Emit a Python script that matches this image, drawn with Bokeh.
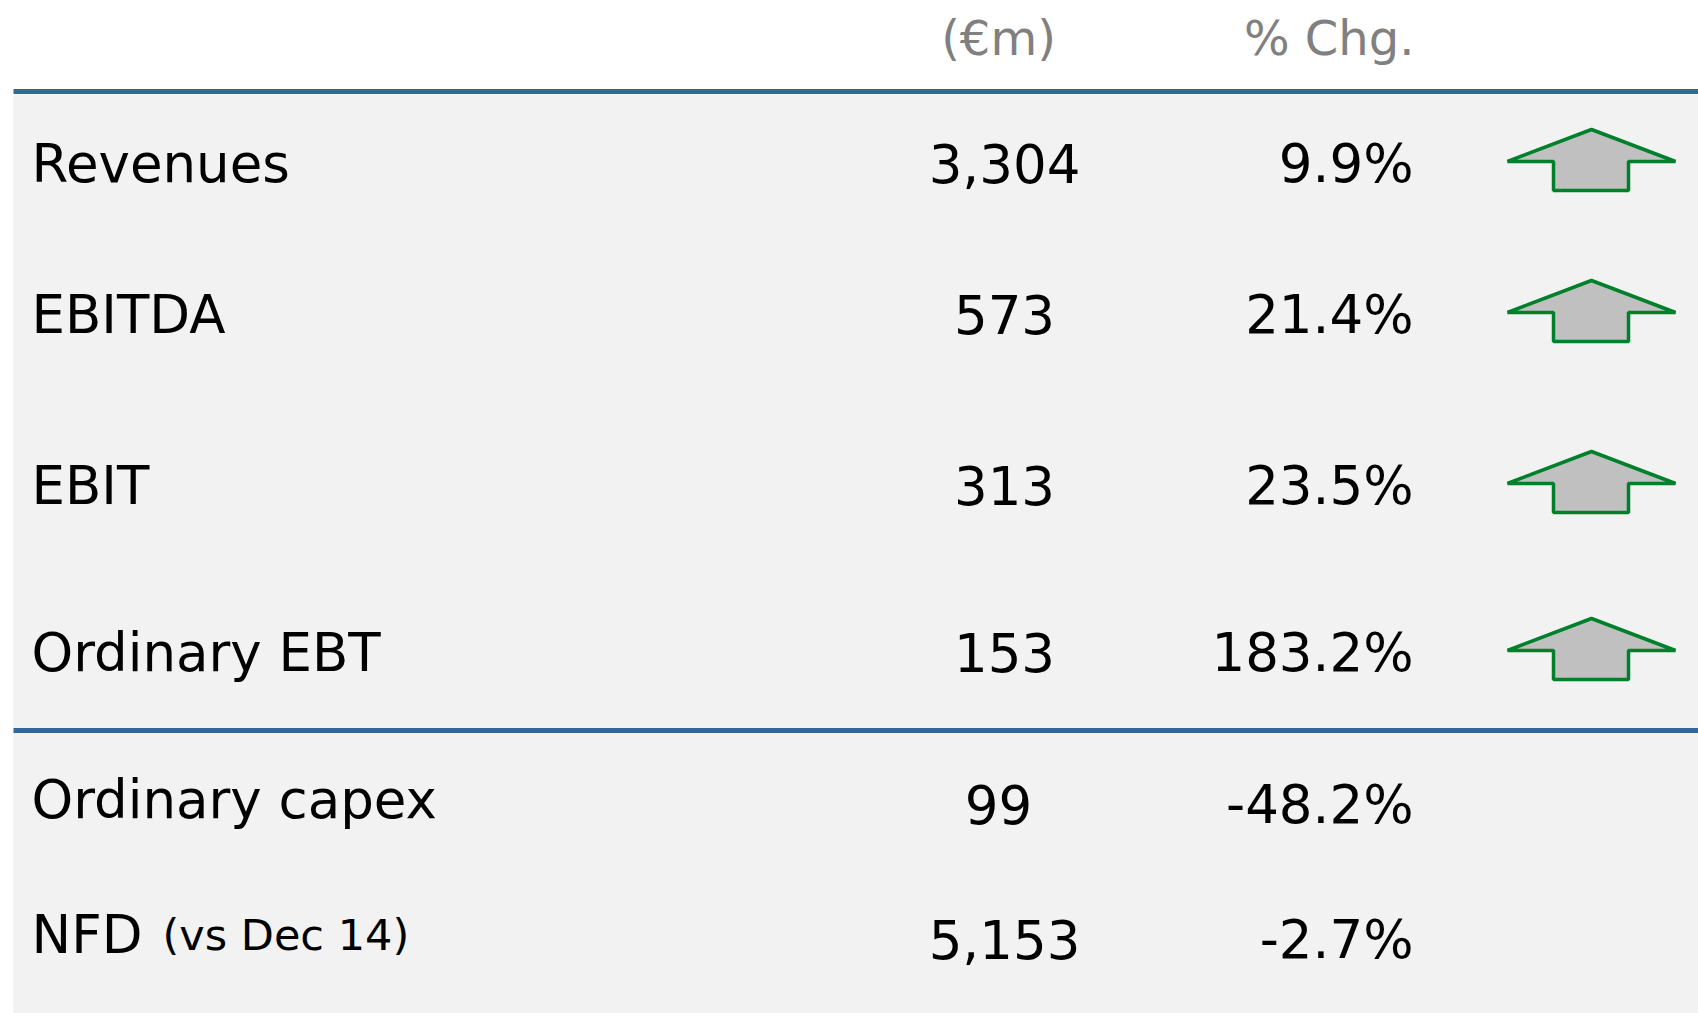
from bokeh.plotting import figure
from bokeh.models import ColumnDataSource, Range1d
from bokeh.core.properties import value
from bokeh.embed import file_html
from bokeh.resources import INLINE

# ---- data ----
labels = ["Revenues", "EBITDA", "EBIT", "Ordinary EBT", "Ordinary capex", "NFD"]
label_notes = ["", "", "", "", "", "(vs Dec 14)"]
amounts = ["3,304", "573", "313", "153", "99", "5,153"]
pct_chg = ["9.9%", "21.4%", "23.5%", "183.2%", "-48.2%", "-2.7%"]
arrow_up = [True, True, True, True, False, False]
headers = ["(\u20acm)", "% Chg."]

# ---- layout (page pixel coordinates) ----
W, H = 1698, 1013
label_base = [183, 334, 505, 672, 819, 954]
value_base = [183, 334, 505, 672, 824, 959]
value_x = [1004, 1004, 1004, 1004, 998, 1004]
DY = -20  # renderer baseline correction
FONT = "DejaVu Sans"

p = figure(width=W, height=H, output_backend="svg", toolbar_location=None,
           x_range=Range1d(0, W), y_range=Range1d(H, 0),
           min_border=0, outline_line_color=None)
p.axis.visible = False
p.grid.visible = False
p.background_fill_color = "white"
p.border_fill_color = "white"

# grey panel
p.quad(left=[13], right=[W], top=[94], bottom=[H], fill_color="#f2f2f2", line_color=None)
# blue rules
blue = "#336699"
p.segment(x0=[13, 13], x1=[W, W], y0=[91, 730], y1=[91, 730], line_color=blue, line_width=5)

# headers
p.text(x=[998], y=[57 + DY], text=[headers[0]], text_align="center", text_baseline="alphabetic",
       text_font=value(FONT), text_font_size="48px", text_color="#808080")
p.text(x=[1414], y=[57 + DY], text=[headers[1]], text_align="right", text_baseline="alphabetic",
       text_font=value(FONT), text_font_size="48px", text_color="#808080")

src = ColumnDataSource(dict(label=labels, amt=amounts, pct=pct_chg,
                            ly=[v + DY for v in label_base], vy=[v + DY for v in value_base],
                            lx=[31] * len(labels), vx=value_x,
                            px=[1413] * len(labels)))
p.text(x="lx", y="ly", text="label", source=src, text_align="left", text_baseline="alphabetic",
       text_font=value(FONT), text_font_size="53px", text_color="black")
p.text(x="vx", y="vy", text="amt", source=src, text_align="center", text_baseline="alphabetic",
       text_font=value(FONT), text_font_size="53px", text_color="black")
p.text(x="px", y="vy", text="pct", source=src, text_align="right", text_baseline="alphabetic",
       text_font=value(FONT), text_font_size="53px", text_color="black")

# small notes next to labels
nx, ny, nt = [], [], []
for i, n in enumerate(label_notes):
    if n:
        nx.append(162)
        ny.append(label_base[i] + DY)
        nt.append(n)
p.text(x=nx, y=ny, text=nt, text_align="left", text_baseline="alphabetic",
       text_font=value(FONT), text_font_size="43px", text_color="black")

# arrows
xs, ys = [], []
for i, up in enumerate(arrow_up):
    if not up:
        continue
    c = label_base[i] - 21
    xs.append([1591, 1675, 1628, 1628, 1553, 1553, 1507])
    ys.append([c - 33, c - 1, c - 1, c + 28, c + 28, c - 1, c - 1])
p.patches(xs=xs, ys=ys, fill_color="#c0c0c0", line_color="#00802b", line_width=3.5)

open("out.html", "w").write(file_html(p, INLINE))
